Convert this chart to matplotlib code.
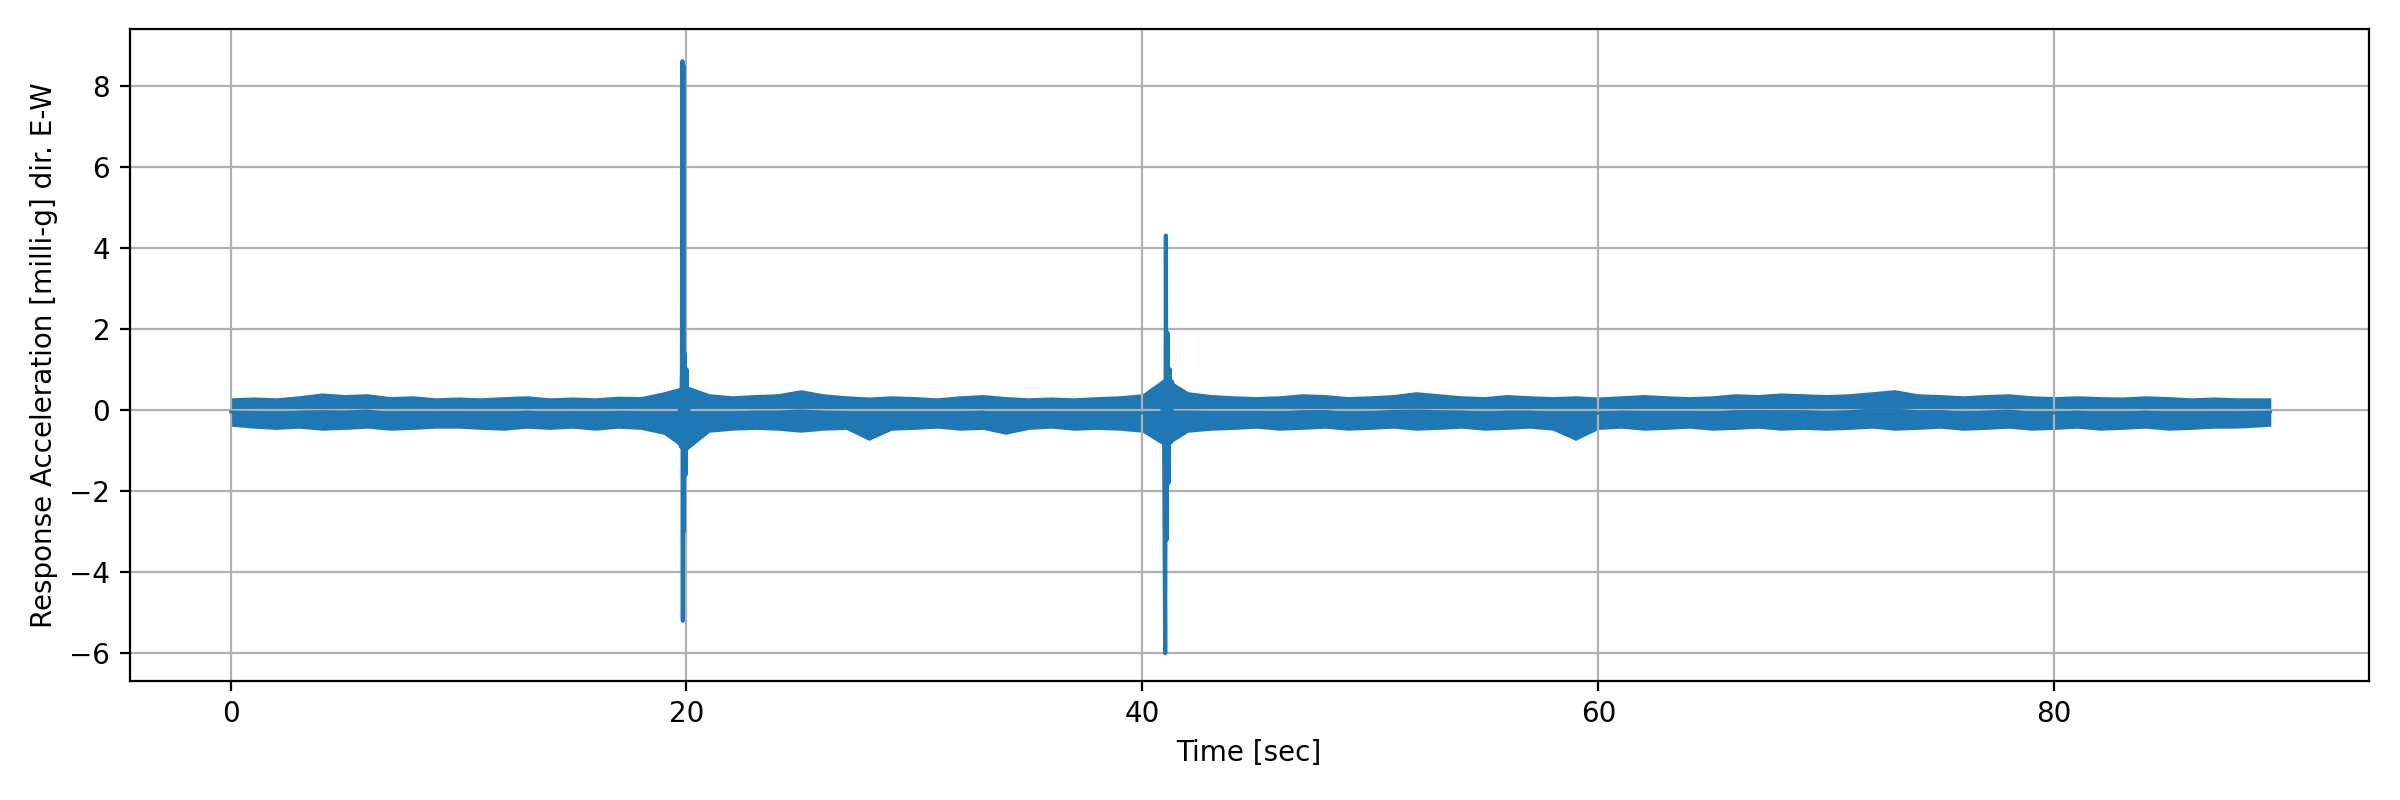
import matplotlib
matplotlib.use("Agg")
import matplotlib.pyplot as plt
import numpy as np

# noise band envelope, one value per second (0..89)
env_t = list(range(0, 90)) + [89.5]
env_hi = [0.30, 0.32, 0.30, 0.35, 0.42, 0.38, 0.40, 0.33, 0.35, 0.30,
          0.32, 0.30, 0.33, 0.35, 0.30, 0.32, 0.30, 0.34, 0.33, 0.45,
          0.60, 0.40, 0.35, 0.38, 0.40, 0.50, 0.40, 0.35, 0.32, 0.35,
          0.33, 0.30, 0.35, 0.38, 0.33, 0.30, 0.32, 0.30, 0.33, 0.35,
          0.40, 0.80, 0.45, 0.38, 0.35, 0.33, 0.35, 0.40, 0.38, 0.33,
          0.35, 0.38, 0.45, 0.40, 0.35, 0.33, 0.38, 0.35, 0.33, 0.35,
          0.32, 0.35, 0.38, 0.35, 0.33, 0.35, 0.40, 0.38, 0.42, 0.40,
          0.38, 0.40, 0.45, 0.50, 0.40, 0.38, 0.35, 0.38, 0.40, 0.35,
          0.33, 0.35, 0.33, 0.32, 0.35, 0.33, 0.30, 0.32, 0.30, 0.30, 0.30]
env_lo = [-0.40, -0.45, -0.48, -0.45, -0.50, -0.48, -0.45, -0.50, -0.48, -0.45,
          -0.45, -0.48, -0.50, -0.45, -0.48, -0.45, -0.50, -0.45, -0.48, -0.60,
          -1.00, -0.55, -0.50, -0.48, -0.50, -0.55, -0.50, -0.48, -0.75, -0.50,
          -0.48, -0.45, -0.50, -0.48, -0.60, -0.48, -0.45, -0.50, -0.48, -0.50,
          -0.55, -0.90, -0.55, -0.50, -0.48, -0.45, -0.50, -0.48, -0.45, -0.50,
          -0.48, -0.45, -0.50, -0.48, -0.45, -0.50, -0.48, -0.45, -0.50, -0.75,
          -0.48, -0.45, -0.50, -0.48, -0.45, -0.50, -0.48, -0.45, -0.50, -0.48,
          -0.50, -0.48, -0.45, -0.50, -0.48, -0.45, -0.50, -0.48, -0.45, -0.50,
          -0.48, -0.45, -0.50, -0.48, -0.45, -0.50, -0.48, -0.45, -0.45, -0.42, -0.40]

# the two impulse events
spike1_t = [19.70, 19.75, 19.80, 19.82, 19.84, 19.86, 19.88, 19.92, 19.96, 20.00, 20.05, 20.10]
spike1_v = [0.3, -0.9, 1.0, 8.6, -5.2, 8.5, -3.0, 1.4, -1.6, 1.0, -0.6, 0.3]
spike2_t = [40.85, 40.95, 41.00, 41.03, 41.06, 41.10, 41.15, 41.20, 41.25, 41.30, 41.40]
spike2_v = [0.3, -0.5, -6.0, 4.3, -3.2, 1.9, -1.8, 1.0, -0.8, 0.7, 0.2]

color = "#1f77b4"
fig, ax = plt.subplots(figsize=(12, 4), dpi=200)
ax.fill_between(env_t, env_lo, env_hi, color=color, lw=0)
ax.plot(env_t, np.add(env_hi, env_lo) / 2, color=color, lw=1)
ax.plot(spike1_t, spike1_v, color=color, lw=1.5)
ax.plot(spike2_t, spike2_v, color=color, lw=1.5)

ax.set_xlim(-4.43, 93.8)
ax.set_ylim(-6.68, 9.4)
ax.set_xlabel("Time [sec]")
ax.set_ylabel("Response Acceleration [milli-g] dir. E-W")
ax.grid(True)
fig.subplots_adjust(left=0.054, right=0.987, top=0.964, bottom=0.149)
fig.savefig("out.png")
